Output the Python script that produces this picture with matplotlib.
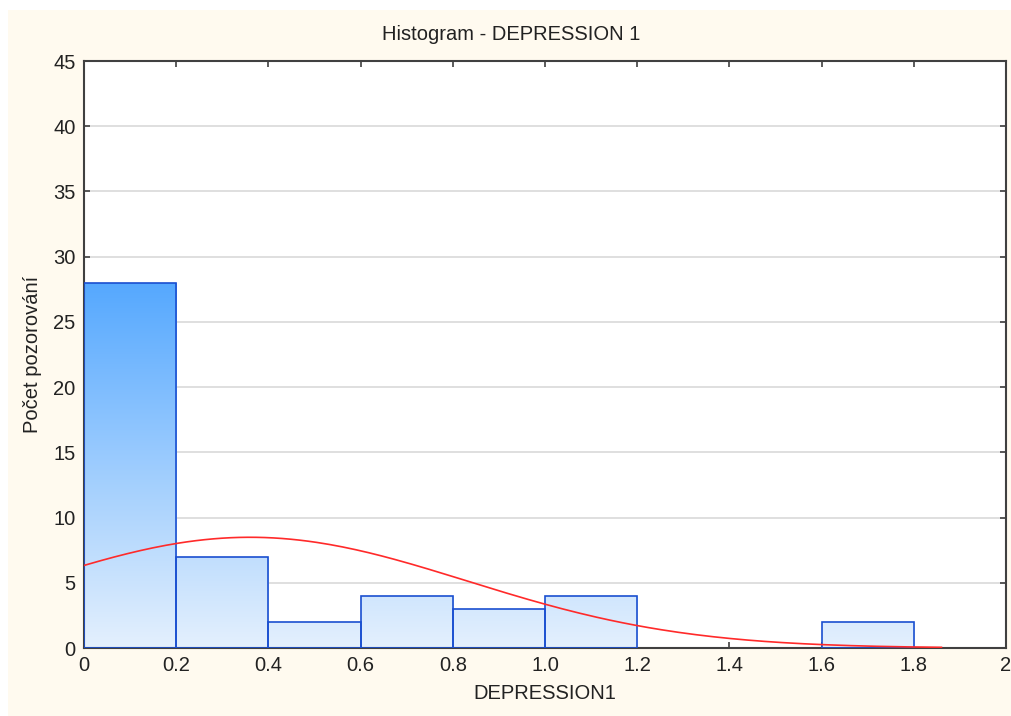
import numpy as np
import matplotlib.pyplot as plt
from matplotlib.patches import Rectangle
from matplotlib.colors import LinearSegmentedColormap

plt.rcParams['font.family'] = ['Liberation Sans', 'DejaVu Sans']

# histogram data
bin_edges = [0.0, 0.2, 0.4, 0.6, 0.8, 1.0, 1.2, 1.4, 1.6, 1.8]
counts = [28, 7, 2, 4, 3, 4, 0, 0, 2]
x_ticks = [0, 0.2, 0.4, 0.6, 0.8, 1.0, 1.2, 1.4, 1.6, 1.8, 2]
x_ticklabels = ['0', '0.2', '0.4', '0.6', '0.8', '1.0', '1.2', '1.4', '1.6', '1.8', '2']
y_ticks = list(range(0, 50, 5))

# normal fit
fit_mean = 0.36
fit_sd = 0.47
fit_end = 1.86

c_edge = '#1a4fd0'
c_line = '#ff2a2a'
c_back = '#fffaef'
fs = 14.5

fig = plt.figure(figsize=(10.12, 7.16), dpi=100, facecolor='white')
fig.patches.append(Rectangle((8 / 1012, -0.05), 1.1, 1.05 - 10 / 716, transform=fig.transFigure,
                             facecolor=c_back, edgecolor='none', zorder=-10))
ax = fig.add_axes([84 / 1012, 68 / 716, 922 / 1012, 587 / 716])
ax.set_facecolor('white')

n_total = sum(counts)
bw = bin_edges[1] - bin_edges[0]
ymax_bar = max(counts)
cmap = LinearSegmentedColormap.from_list('grad', ['#e4f0fd', '#55a8ff'])
grad = np.linspace(0, 1, 256).reshape(-1, 1)

for left, c in zip(bin_edges[:-1], counts):
    if c == 0:
        continue
    rect = Rectangle((left, 0), bw, c, facecolor='none', edgecolor=c_edge, lw=1.2, zorder=3)
    ax.add_patch(rect)
    im = ax.imshow(grad, extent=[left, left + bw, 0, ymax_bar], origin='lower',
                   cmap=cmap, aspect='auto', zorder=2, interpolation='bilinear')
    im.set_clip_path(rect)

xs = np.linspace(0, fit_end, 200)
ys = n_total * bw / (fit_sd * np.sqrt(2 * np.pi)) * np.exp(-(xs - fit_mean) ** 2 / (2 * fit_sd ** 2))
ax.plot(xs, ys, color=c_line, lw=1.2, zorder=4)

ax.set_xlim(0, 2)
ax.set_ylim(0, 45)
ax.set_xticks(x_ticks)
ax.set_xticklabels(x_ticklabels)
ax.set_yticks(y_ticks)
ax.yaxis.grid(True, color='#d9d9d9', lw=1.2)
ax.set_axisbelow(True)
ax.tick_params(direction='in', top=True, right=True, length=4, width=1.2,
               labelsize=fs, colors='#404040', labelcolor='#222222', pad=6)
for s in ax.spines.values():
    s.set_color('#404040')
    s.set_linewidth(1.5)

fig.text(511 / 1012, 1 - 35 / 716, 'Histogram - DEPRESSION 1', ha='center', va='center',
         fontsize=fs, color='#222222')
ax.set_xlabel('DEPRESSION1', fontsize=fs, color='#222222', labelpad=6)
ax.set_ylabel('Počet pozorování', fontsize=fs, color='#222222', labelpad=8)

fig.savefig('out.png', dpi=100, facecolor=fig.get_facecolor())
